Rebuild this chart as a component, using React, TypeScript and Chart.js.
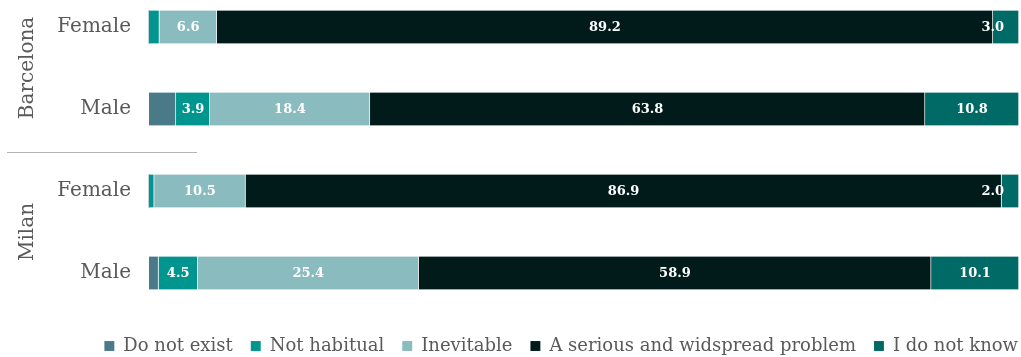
import React, { useEffect, useRef } from "react";
import { Chart, registerables } from "chart.js";

Chart.register(...registerables);

const rowLabels = ["Female", "Male", "Female", "Male"];
const groupLabels = ["Barcelona", "Milan"];
const seriesNames = ["Do not exist", "Not habitual", "Inevitable", "A serious and widspread problem", "I do not know"];
const doNotExist = [0, 3.1, 0, 1.1];
const notHabitual = [1.2, 3.9, 0.6, 4.5];
const inevitable = [6.6, 18.4, 10.5, 25.4];
const seriousProblem = [89.2, 63.8, 86.9, 58.9];
const doNotKnow = [3.0, 10.8, 2.0, 10.1];
const seriesColors = ["#4a7a87", "#00968f", "#8abbbe", "#011a1a", "#006a66"];

const FONT = "'DejaVu Serif', serif";

const labelPlugin = {
  id: "segLabels",
  afterLayout(chart: any) {
    const lg = chart.legend;
    if (lg) {
      lg.left += 17;
      lg.right += 17;
    }
  },
  afterDatasetsDraw(chart: any) {
    const ctx = chart.ctx;
    ctx.save();
    ctx.font = `bold 13px ${FONT}`;
    ctx.fillStyle = "#ffffff";
    ctx.textBaseline = "middle";
    chart.data.datasets.forEach((ds: any, di: number) => {
      if (di === 0) return;
      const meta = chart.getDatasetMeta(di);
      meta.data.forEach((bar: any, i: number) => {
        const v = ds.data[i];
        if (v < 2) return;
        const txt = v.toFixed(1);
        const w = Math.abs(bar.x - bar.base);
        if (w < 30) {
          ctx.textAlign = "right";
          ctx.fillText(txt, bar.x - 15, bar.y + 1);
        } else {
          ctx.textAlign = "center";
          ctx.fillText(txt, (bar.x + bar.base) / 2, bar.y + 1);
        }
      });
    });
    ctx.restore();
  },
  afterDraw(chart: any) {
    const ctx = chart.ctx;
    const y = chart.scales.y;
    ctx.save();
    ctx.font = `20px ${FONT}`;
    ctx.fillStyle = "#595959";
    ctx.textAlign = "center";
    ctx.textBaseline = "middle";
    groupLabels.forEach((g, gi) => {
      const cy = (y.getPixelForValue(gi * 2) + y.getPixelForValue(gi * 2 + 1)) / 2;
      ctx.save();
      ctx.translate(28, cy);
      ctx.rotate(-Math.PI / 2);
      ctx.fillText(g, 0, 0);
      ctx.restore();
    });
    const sy = (y.getPixelForValue(1) + y.getPixelForValue(2)) / 2 + 1.5;
    ctx.strokeStyle = "#b3b3b3";
    ctx.lineWidth = 1;
    ctx.beginPath();
    ctx.moveTo(7, Math.round(sy) + 0.5);
    ctx.lineTo(197, Math.round(sy) + 0.5);
    ctx.stroke();
    ctx.restore();
  },
};

export default function App() {
  const ref = useRef<HTMLCanvasElement>(null);
  useEffect(() => {
    const values = [doNotExist, notHabitual, inevitable, seriousProblem, doNotKnow];
    const chart = new Chart(ref.current!, {
      type: "bar",
      data: {
        labels: rowLabels,
        datasets: seriesNames.map((n, i) => ({
          label: n,
          data: values[i],
          backgroundColor: seriesColors[i],
          borderColor: "rgba(255,255,255,0.35)",
          borderWidth: { left: 0, right: 1, top: 0, bottom: 0 },
          barThickness: 33,
          clip: false,
        })),
      },
      options: {
        indexAxis: "y",
        animation: false,
        responsive: true,
        maintainAspectRatio: false,
        layout: { padding: { left: 0, right: 2, top: 27, bottom: -8 } },
        scales: {
          x: {
            stacked: true,
            min: 0,
            max: 100,
            display: true,
            grid: { display: false },
            border: { display: false },
            ticks: { display: false },
            afterFit(scale: any) {
              scale.height = 46;
            },
          },
          y: {
            stacked: true,
            offset: false,
            grid: { display: false },
            border: { display: false },
            ticks: { color: "#595959", font: { family: FONT, size: 20 }, padding: 10 },
            afterFit(scale: any) {
              scale.width = 149;
            },
          },
        },
        plugins: {
          legend: {
            position: "bottom",
            align: "end",
            labels: {
              boxWidth: 10,
              boxHeight: 10,
              padding: 18,
              color: "#595959",
              font: { family: FONT, size: 18 },
            },
          },
          tooltip: { enabled: false },
        },
      },
      plugins: [labelPlugin],
    });
    return () => chart.destroy();
  }, []);
  return (
    <div style={{ position: "fixed", left: 0, top: 0, width: 1021, height: 357 }}>
      <canvas ref={ref} />
    </div>
  );
}
